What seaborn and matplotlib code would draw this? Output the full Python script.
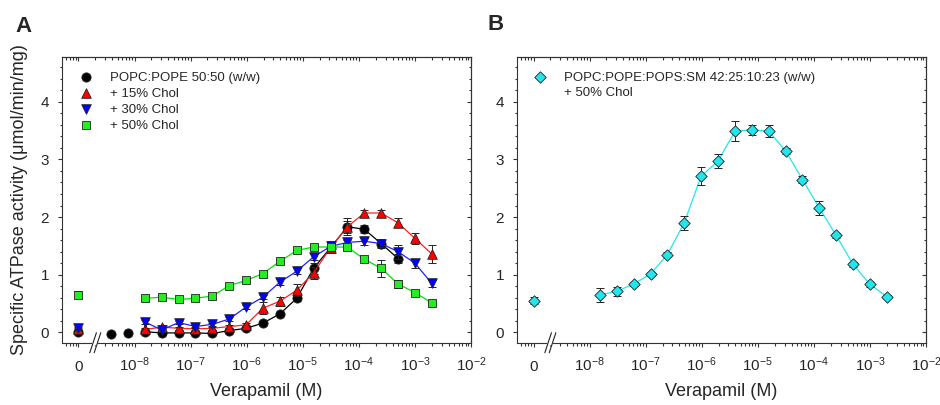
import numpy as np
import pandas as pd
import matplotlib
matplotlib.use("Agg")
import matplotlib.pyplot as plt
import seaborn as sns
from matplotlib.ticker import FixedLocator, LogLocator, NullFormatter, FixedFormatter, MultipleLocator
from matplotlib.lines import Line2D

# ---------------- data ----------------
conc = [1.53e-8, 3.05e-8, 6.1e-8, 1.22e-7, 2.44e-7, 4.88e-7, 9.77e-7, 1.95e-6,
        3.91e-6, 7.81e-6, 1.56e-5, 3.13e-5, 6.25e-5, 1.25e-4, 2.5e-4, 5e-4, 1e-3, 2e-3]
conc_black = [3.81e-9, 7.63e-9, 1.53e-8, 3.05e-8, 6.1e-8, 1.22e-7, 2.44e-7, 4.88e-7,
              9.77e-7, 1.95e-6, 3.91e-6, 7.81e-6, 1.56e-5, 3.13e-5, 6.25e-5, 1.25e-4, 2.5e-4, 5e-4]

black_vals = [-0.03, -0.01, 0.01, -0.01, -0.01, -0.01, -0.02, 0.03, 0.07, 0.16, 0.32, 0.59,
              1.11, 1.47, 1.83, 1.79, 1.54, 1.28]
black_err = [0.02, 0.02, 0.02, 0.02, 0.02, 0.02, 0.02, 0.03, 0.03, 0.03, 0.04, 0.05,
             0.1, 0.1, 0.1, 0.07, 0.08, 0.08]
red_vals = [0.05, 0.09, 0.07, 0.06, 0.07, 0.10, 0.13, 0.42, 0.54, 0.73, 1.03, 1.47,
            1.83, 2.07, 2.07, 1.90, 1.63, 1.36]
red_err = [0.03, 0.03, 0.03, 0.03, 0.03, 0.03, 0.04, 0.1, 0.08, 0.1, 0.1, 0.1,
           0.15, 0.06, 0.06, 0.08, 0.1, 0.16]
blue_vals = [0.18, 0.04, 0.17, 0.10, 0.14, 0.23, 0.44, 0.61, 0.87, 1.06, 1.31, 1.49,
             1.56, 1.58, 1.54, 1.40, 1.20, 0.85]
blue_err = [0.03, 0.03, 0.03, 0.03, 0.03, 0.03, 0.03, 0.04, 0.05, 0.05, 0.06, 0.05,
            0.05, 0.06, 0.06, 0.12, 0.08, 0.06]
green_vals = [0.59, 0.61, 0.57, 0.59, 0.63, 0.81, 0.90, 1.02, 1.23, 1.42, 1.48, 1.48,
              1.48, 1.27, 1.11, 0.84, 0.69, 0.51]
green_err = [0.04, 0.03, 0.03, 0.03, 0.03, 0.03, 0.03, 0.03, 0.03, 0.03, 0.03, 0.1,
             0.04, 0.04, 0.15, 0.07, 0.03, 0.03]

zero_vals_A = {"black": 0.0, "red": 0.05, "blue": 0.07, "green": 0.65}
zero_err_A = {"black": 0.03, "red": 0.03, "blue": 0.03, "green": 0.06}

cyan_vals = [0.65, 0.71, 0.84, 1.01, 1.35, 1.90, 2.71, 2.97, 3.49, 3.51, 3.49, 3.15,
             2.65, 2.16, 1.68, 1.18, 0.83, 0.62]
cyan_err = [0.12, 0.08, 0.04, 0.04, 0.04, 0.12, 0.15, 0.12, 0.17, 0.08, 0.1, 0.05,
            0.06, 0.12, 0.04, 0.04, 0.04, 0.03]
zero_val_B = 0.55
zero_err_B = 0.06

labels_A = ["POPC:POPE 50:50 (w/w)", "+ 15% Chol", "+ 30% Chol", "+ 50% Chol"]
label_B = ["POPC:POPE:POPS:SM 42:25:10:23 (w/w)", "+ 50% Chol"]
xtick_vals = [1e-9, 1e-8, 1e-7, 1e-6, 1e-5, 1e-4, 1e-3, 1e-2]
xtick_labels = ["0", "$10^{-8}$", "$10^{-7}$", "$10^{-6}$", "$10^{-5}$",
                "$10^{-4}$", "$10^{-3}$", "$10^{-2}$"]
xlabel = "Verapamil (M)"
ylabel = "Specific ATPase activity (\u03bcmol/min/mg)"

# ---------------- style ----------------
sns.set_theme(style="ticks")
plt.rcParams["font.family"] = ["Liberation Sans", "DejaVu Sans"]
plt.rcParams["mathtext.fontset"] = "custom"
plt.rcParams["mathtext.rm"] = "Liberation Sans"
plt.rcParams["mathtext.it"] = "Liberation Sans:italic"
plt.rcParams["mathtext.bf"] = "Liberation Sans:bold"

ZERO_POS = 1e-9      # axis position used for the "0" concentration
BREAK_POS = 10 ** -8.7
XMIN, XMAX = 10 ** -9.3, 1e-2
YMIN, YMAX = -0.18, 4.78

fig = plt.figure(figsize=(9.4, 4.05), dpi=100)
axA = fig.add_axes([0.0656, 0.1538, 0.4354, 0.706])
axB = fig.add_axes([0.5497, 0.1538, 0.4354, 0.706])

EDGE = "#222222"


def draw_series(ax, x, y, err, xz, yz, ez, marker, size, fc, lc, z, label):
    df = pd.DataFrame({"x": x, "y": y})
    line_df = df[df["x"] >= conc[0] * 0.99]
    sns.lineplot(data=line_df, x="x", y="y", ax=ax, color=lc, lw=0.9,
                 estimator=None, sort=False, zorder=z)
    ax.errorbar(list(x) + [xz], list(y) + [yz], yerr=list(err) + [ez], fmt="none",
                ecolor=EDGE, elinewidth=0.7, capsize=3, capthick=0.7, zorder=z + 0.1)
    dfm = pd.DataFrame({"x": list(x) + [xz], "y": list(y) + [yz]})
    sns.scatterplot(data=dfm, x="x", y="y", ax=ax, marker=marker, s=size, color=fc,
                    edgecolor=EDGE, linewidth=0.6, zorder=z + 0.2, label=label)


series_A = [
    (conc_black, black_vals, black_err, "black", "o", 44, "#000000", "#000000"),
    (conc, red_vals, red_err, "red", "^", 48, "#FF0000", "#FF2020"),
    (conc, blue_vals, blue_err, "blue", "v", 48, "#0000FF", "#2020FF"),
    (conc, green_vals, green_err, "green", "s", 36, "#22EE22", "#00E000"),
]
for i, (xx, yy, ee, key, mk, sz, fc, lc) in enumerate(series_A):
    draw_series(axA, xx, yy, ee, ZERO_POS, zero_vals_A[key], zero_err_A[key],
                mk, sz, fc, lc, 3 + i, labels_A[i])

draw_series(axB, conc, cyan_vals, cyan_err, ZERO_POS, zero_val_B, zero_err_B,
            "D", 34, "#22E6EE", "#22E6EE", 3, label_B[0])

for ax in (axA, axB):
    ax.set_xscale("log")
    ax.set_xlim(XMIN, XMAX)
    ax.set_ylim(YMIN, YMAX)
    ax.xaxis.set_major_locator(FixedLocator(xtick_vals))
    ax.xaxis.set_major_formatter(FixedFormatter(xtick_labels))
    ax.xaxis.set_minor_locator(LogLocator(base=10, subs=np.arange(2, 10), numticks=30))
    ax.xaxis.set_minor_formatter(NullFormatter())
    ax.yaxis.set_major_locator(MultipleLocator(1))
    ax.yaxis.set_minor_locator(MultipleLocator(0.2))
    ax.tick_params(which="both", direction="out", color="#333333", width=0.8,
                   labelsize=11, top=False, right=False)
    ax.tick_params(which="major", length=3.2)
    ax.tick_params(which="minor", length=1.8)
    ax.tick_params(axis="x", pad=17)
    ax.tick_params(axis="y", pad=6)
    for lab in ax.get_xticklabels():
        lab.set_verticalalignment("baseline")
    for sp in ax.spines.values():
        sp.set_linewidth(0.8)
        sp.set_color("#333333")
        sp.set_visible(True)
    ax.set_xlabel(xlabel, fontsize=13)
    ax.xaxis.set_label_coords(0.5, -0.142)
    ax.set_ylabel("")

    top = ax.secondary_xaxis("top")
    top.xaxis.set_major_locator(FixedLocator(xtick_vals))
    top.xaxis.set_minor_locator(LogLocator(base=10, subs=np.arange(2, 10), numticks=30))
    top.xaxis.set_major_formatter(NullFormatter())
    top.xaxis.set_minor_formatter(NullFormatter())
    top.tick_params(which="both", direction="in", color="#333333", width=0.8)
    top.tick_params(which="major", length=3.2)
    top.tick_params(which="minor", length=1.8)
    top.spines["top"].set_linewidth(0.8)
    top.spines["top"].set_color("#333333")

    right = ax.secondary_yaxis("right")
    right.yaxis.set_major_locator(MultipleLocator(1))
    right.yaxis.set_minor_locator(MultipleLocator(0.2))
    right.yaxis.set_major_formatter(NullFormatter())
    right.tick_params(which="both", direction="in", color="#333333", width=0.8)
    right.tick_params(which="major", length=3.2)
    right.tick_params(which="minor", length=1.8)
    right.spines["right"].set_linewidth(0.8)
    right.spines["right"].set_color("#333333")

    # axis break "//" on the bottom spine
    lx0, lx1 = np.log10(XMIN), np.log10(XMAX)
    bf = (np.log10(BREAK_POS) - lx0) / (lx1 - lx0)
    w_ax = 0.4354 * 940
    h_ax = 0.706 * 405
    hdx, hdy, sep = 3.3 / w_ax, 10 / h_ax, 2.2 / w_ax
    poly_x = [bf - sep - hdx * 0.2, bf + sep - hdx * 0.2, bf + sep + hdx * 0.2, bf - sep + hdx * 0.2]
    poly_y = [-hdy * 0.2, -hdy * 0.2, hdy * 0.2, hdy * 0.2]
    ax.fill(poly_x, poly_y, color="white", transform=ax.transAxes, clip_on=False, zorder=20)
    for s in (-sep, sep):
        ax.plot([bf + s - hdx, bf + s + hdx], [-hdy, hdy], color="#222222", lw=0.8,
                transform=ax.transAxes, clip_on=False, zorder=21)

axA.set_ylabel(ylabel, fontsize=13)
axA.yaxis.set_label_coords(-0.082, 0.5)

# legends
hA, lA = axA.get_legend_handles_labels()
legA = axA.legend(hA, lA, loc="upper left", bbox_to_anchor=(0.043, 0.948), frameon=False,
                  fontsize=9.5, handlelength=1.0, handletextpad=1.3, borderpad=0,
                  borderaxespad=0, labelspacing=0.28)
hB, lB = axB.get_legend_handles_labels()
blank = Line2D([], [], linestyle="none", marker=None)
legB = axB.legend([hB[0], blank], label_B, loc="upper left", bbox_to_anchor=(0.041, 0.948),
                  frameon=False, fontsize=9.5, handlelength=1.0, handletextpad=1.3,
                  borderpad=0, borderaxespad=0, labelspacing=0.2)

fig.text(24 / 940, 1 - 26 / 405, "A", fontsize=16, fontweight="bold", ha="center", va="center")
fig.text(496 / 940, 1 - 24 / 405, "B", fontsize=16, fontweight="bold", ha="center", va="center")

fig.savefig("out.png", dpi=100)
